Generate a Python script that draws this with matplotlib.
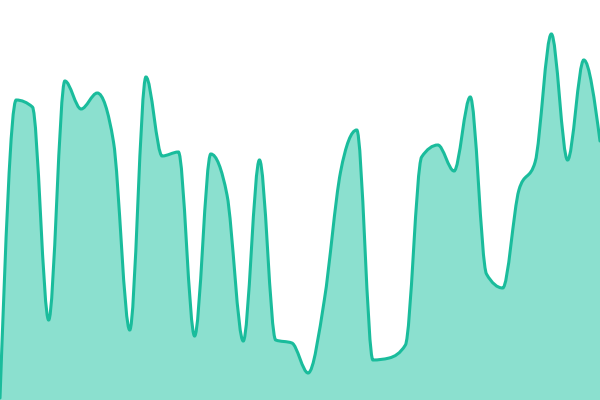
#!/usr/bin/env python3

import numpy as np
import matplotlib
matplotlib.use("Agg")
import matplotlib.pyplot as plt
from matplotlib.path import Path
from matplotlib.patches import PathPatch

# values (height above bottom edge, 0..400)
values = [2, 300, 293, 80, 319, 291, 307, 258, 70, 323, 244, 248, 64,
          246, 205, 59, 240, 60, 57, 27, 100, 228, 270, 40, 42, 55,
          243, 255, 229, 303, 126, 112, 210, 238, 366, 240, 340, 259]

line_color = "#1abc9c"
fill_color = "#8be0cf"


def slopes(x, y):
    # tangents like a monotone-x curve
    n = len(x)
    t = np.zeros(n)
    for i in range(1, n-1):
        h0 = x[i]-x[i-1]
        h1 = x[i+1]-x[i]
        s0 = (y[i]-y[i-1])/h0
        s1 = (y[i+1]-y[i])/h1
        p = (s0*h1 + s1*h0)/(h0+h1)
        t[i] = (np.sign(s0)+np.sign(s1))*min(abs(s0), abs(s1), 0.5*abs(p))
    t[0] = (3*(y[1]-y[0])/(x[1]-x[0]) - t[1])/2
    t[-1] = (3*(y[-1]-y[-2])/(x[-1]-x[-2]) - t[-2])/2
    return t


def curve_path(x, y, closed=False):
    t = slopes(x, y)
    verts = [(x[0], y[0])]
    codes = [Path.MOVETO]
    for i in range(len(x)-1):
        dx = (x[i+1]-x[i])/3
        verts += [(x[i]+dx, y[i]+dx*t[i]),
                  (x[i+1]-dx, y[i+1]-dx*t[i+1]),
                  (x[i+1], y[i+1])]
        codes += [Path.CURVE4]*3
    if closed:
        verts += [(x[-1], 0), (x[0], 0), (x[0], y[0])]
        codes += [Path.LINETO, Path.LINETO, Path.CLOSEPOLY]
    return Path(verts, codes)


def main():
    x = np.arange(len(values), dtype=float)
    y = np.array(values, dtype=float)

    fig = plt.figure(figsize=(6, 4), dpi=100)
    ax = fig.add_axes([0, 0, 1, 1])
    ax.add_patch(PathPatch(curve_path(x, y, closed=True),
                           facecolor=fill_color, edgecolor="none"))
    ax.add_patch(PathPatch(curve_path(x, y), facecolor="none",
                           edgecolor=line_color, lw=2.2, capstyle="round"))
    ax.set_xlim(0, len(values)-1)
    ax.set_ylim(0, 400)
    ax.axis("off")
    fig.savefig("out.png", dpi=100)


if __name__ == "__main__":
    main()
